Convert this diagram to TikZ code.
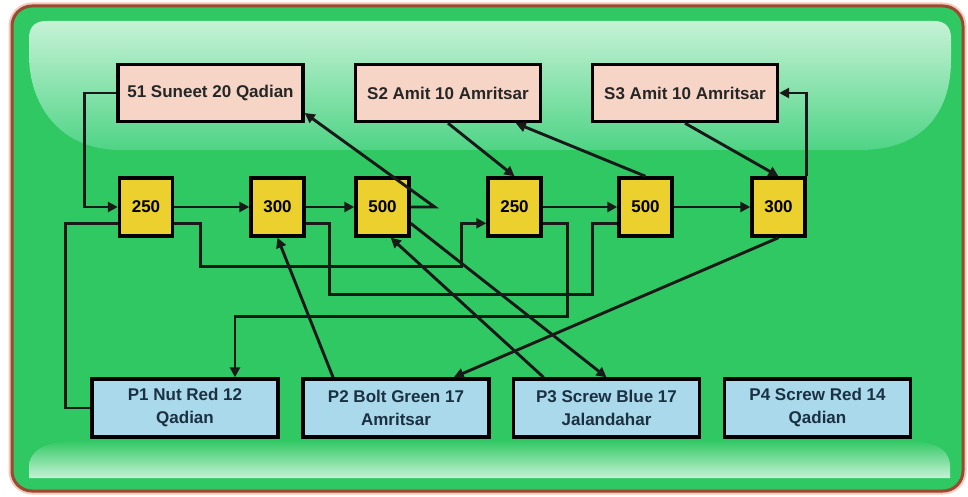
\documentclass[tikz,border=0pt]{standalone}
\usepackage{fontspec}
\setmainfont{Liberation Sans}
\usetikzlibrary{arrows.meta,calc}

\definecolor{framegreen}{HTML}{2FC862}
\definecolor{frameedge}{HTML}{9A4A30}
\definecolor{framehalo}{HTML}{F4C8BE}
\definecolor{gloss}{HTML}{C6F2D6}
\definecolor{glossend}{HTML}{4FD486}
\definecolor{supfill}{HTML}{F6D5C6}
\definecolor{qtyfill}{HTML}{EBD02E}
\definecolor{partfill}{HTML}{A9D9EA}
\definecolor{parttext}{HTML}{1B3142}

\tikzset{
  boxtext/.style={font=\bfseries\fontsize{17}{23}\selectfont, align=center},
  sbox/.style={boxtext, draw=black, line width=3.4pt, fill=supfill, text=black!85,
    minimum width=185pt, minimum height=57pt, inner sep=2pt},
  ybox/.style={boxtext, draw=black, line width=3.4pt, fill=qtyfill, text=black,
    minimum width=53pt, minimum height=58pt, inner sep=1pt},
  pbox/.style={boxtext, draw=black, line width=3.4pt, fill=partfill, text=parttext,
    minimum width=186pt, minimum height=58pt, inner sep=2pt},
  conn/.style={draw=black!90, line width=2.9pt},
  tip/.tip={Triangle[length=10pt,width=10pt]}
}

\begin{document}
\begin{tikzpicture}[x=1pt, y=-1pt]

\useasboundingbox (0,0) rectangle (968,497);

% ---------- tlo ----------
\draw[line width=7pt, framehalo, rounded corners=20pt] (12,6) rectangle (963,491);
\draw[line width=3pt, draw=frameedge, fill=framegreen, rounded corners=20pt] (12,6) rectangle (963,491);

\shade[top color=gloss, bottom color=glossend]
  (46,21) -- (934,21) .. controls (945,21) and (951,27) .. (951,38)
  -- (951,60) .. controls (951,110) and (925,150) .. (860,150)
  -- (120,150) .. controls (60,150) and (29,105) .. (29,55)
  -- (29,38) .. controls (29,27) and (35,21) .. (46,21) -- cycle;

\shade[top color=framegreen, bottom color=gloss]
  (29,478) -- (29,468) .. controls (29,450) and (45,440) .. (85,440)
  -- (900,440) .. controls (935,440) and (950,450) .. (950,466)
  -- (950,478) -- cycle;

% ---------- dostawcy ----------
\node[sbox] (s1) at (210.5,93) {51 Suneet 20 Qadian};
\node[sbox] (s2) at (448,93)   {S2 Amit 10 Amritsar};
\node[sbox] (s3) at (685,93)   {S3 Amit 10 Amritsar};

% ---------- ilosci ----------
\node[ybox] (y1) at (146,207)   {250};
\node[ybox] (y2) at (277.5,207) {300};
\node[ybox] (y3) at (382.5,207) {500};
\node[ybox] (y4) at (514.5,207) {250};
\node[ybox] (y5) at (645.5,207) {500};
\node[ybox] (y6) at (778.5,207) {300};

% ---------- czesci ----------
\node[pbox] (p1) at (185,408)   {P1 Nut Red 12\\Qadian};
\node[pbox] (p2) at (396,408)   {P2 Bolt Green 17\\Amritsar};
\node[pbox] (p3) at (606.5,408) {P3 Screw Blue 17\\Jalandahar};
\node[pbox] (p4) at (817.5,408) {P4 Screw Red 14\\Qadian};

% ---------- polaczenia ----------
\draw[conn,-tip] (s1.west) -- ++(-32,0) |- (y1.west);
\draw[conn,-tip] (y1) -- (y2);
\draw[conn,-tip] (y2) -- (y3);
\draw[conn,-tip] (y4) -- (y5);
\draw[conn,-tip] (y5) -- (y6);

\draw[conn,-tip] (y3.east) -- ++(24,0) coordinate (k1) -- (s1.-12);
\draw[conn,-tip] (s2.south) -- (y4.north);
\draw[conn,-tip] (y5.north) -- (s2.-24);
\draw[conn,-tip] (s3.south) -- (y6.north);
\draw[conn,-tip] (y6.north east) |- (s3.east);

\draw[conn,-tip] (y1.-30) -- ++(26,0) -- ++(0,43) -| ([xshift=-25pt]y4.210) -- (y4.210);
\draw[conn] (y2.-30) -- ++(24,0) -- ++(0,71) -| ([xshift=-25pt]y5.210) -- (y5.210);
\draw[conn,-tip] (y4.-30) -- ++(25,0) -- ++(0,93) -| ([xshift=50pt]p1.north);
\draw[conn] (p1.west) -- ++(-25,0) |- (y1.210);

\draw[conn,-tip] (p2.154) -- (y2.south);
\draw[conn,-tip] (y3.-30) -- (p3.north);
\draw[conn,-tip] (p3.154) -- (y3.-75);
\draw[conn,-tip] (y6.south) -- (p2.28);

\end{tikzpicture}
\end{document}
